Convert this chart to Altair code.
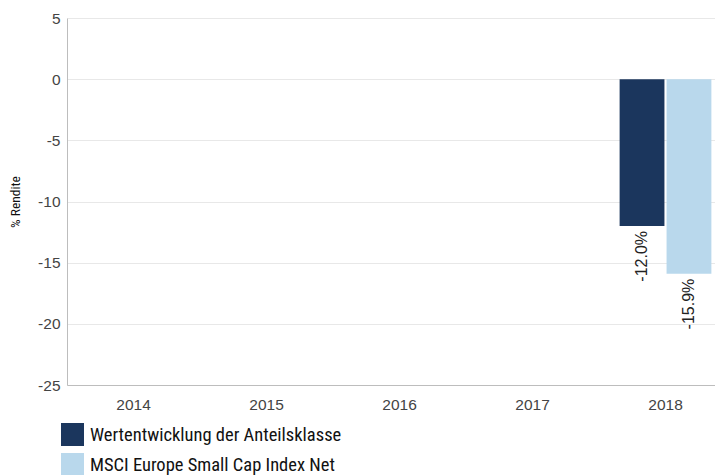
import altair as alt
import pandas as pd

years = ["2014", "2015", "2016", "2017", "2018"]
series_names = ["Wertentwicklung der Anteilsklasse", "MSCI Europe Small Cap Index Net"]
fund_values = [None, None, None, None, -12.0]
index_values = [None, None, None, None, -15.9]
colors = ["#1b365d", "#b9d8ec"]
y_ticks = [5, 0, -5, -10, -15, -20, -25]

rows = []
for i, y in enumerate(years):
    for s, vals in zip(series_names, [fund_values, index_values]):
        v = vals[i]
        rows.append({
            "year": y,
            "series": s,
            "value": v,
            "label": (f"{v:.1f}%" if v is not None else None),
        })
df = pd.DataFrame(rows)

cond_font = "Roboto Condensed, DejaVu Sans Condensed, Liberation Sans Narrow, Noto Sans Condensed, Roboto, sans-serif"
base_font = "Arial"

xscale = alt.Scale(domain=years, range=[0, 665], paddingInner=0.31, paddingOuter=0.155)

x = alt.X("year:N", scale=xscale,
          axis=alt.Axis(title=None, labelAngle=0, labelFontSize=15.5, labelColor="#444444",
                        labelFont=base_font, ticks=False,
                        domainColor="#bdbdbd", labelPadding=12, grid=False))
xo = alt.XOffset("series:N", sort=series_names, scale=alt.Scale(paddingInner=0.045))
y = alt.Y("value:Q", scale=alt.Scale(domain=[-25, 5], nice=False, zero=False),
          axis=alt.Axis(title="% Rendite", values=y_ticks, labelExpr="'' + datum.value",
                        labelFontSize=15.5, labelColor="#444444",
                        labelFont=base_font, ticks=False,
                        domainColor="#bdbdbd", gridColor="#e8e8e8", labelPadding=7,
                        titleFont=cond_font, titleFontSize=13.5, titleFontWeight="normal",
                        titleColor="#111111", titlePadding=15))

bars = alt.Chart(df).mark_bar().encode(
    x=x, xOffset=xo, y=y,
    color=alt.Color("series:N", sort=series_names,
                    scale=alt.Scale(domain=series_names, range=colors),
                    legend=alt.Legend(title=None, orient="none", legendX=-6, legendY=405,
                                      direction="vertical", symbolType="square",
                                      symbolSize=529, symbolStrokeWidth=0, symbolOpacity=1,
                                      labelFont=cond_font, labelFontSize=18.5,
                                      labelColor="#111111", labelOffset=6, rowPadding=7,
                                      padding=0, labelLimit=500)),
)

labels = alt.Chart(df).mark_text(angle=270, align="right", baseline="middle", dx=-5,
                                 fontSize=16, color="#222222", font=base_font).encode(
    x=alt.X("year:N", scale=xscale),
    xOffset=xo,
    y=alt.Y("value:Q"),
    text="label:N",
)

chart = (bars + labels).properties(
    width=648, height=367,
    autosize=alt.AutoSizeParams(type="none"),
    padding={"left": 59, "top": 10, "right": 0, "bottom": 90},
    background="white",
).configure_view(stroke=None)

chart.save("out.html", embed_options={"renderer": "svg", "actions": False})
